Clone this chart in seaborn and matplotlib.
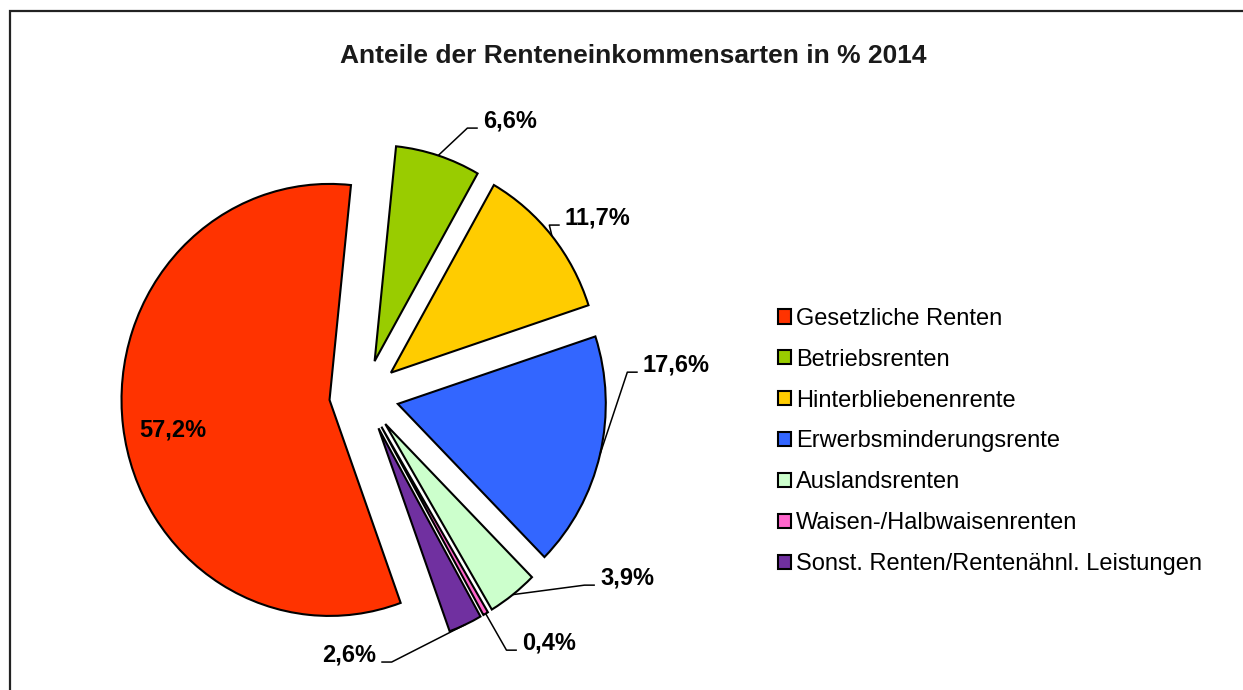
import numpy as np
import matplotlib
matplotlib.use("Agg")
import matplotlib.pyplot as plt
from matplotlib.patches import Rectangle
import seaborn as sns

# Anteile der Renteneinkommensarten 2014 (in %)
categories = ["Gesetzliche Renten", "Betriebsrenten", "Hinterbliebenenrente",
              "Erwerbsminderungsrente", "Auslandsrenten", "Waisen-/Halbwaisenrenten",
              "Sonst. Renten/Rentenähnl. Leistungen"]
shares = [57.2, 6.6, 11.7, 17.6, 3.9, 0.4, 2.6]
colors = ["#FF3300", "#99CC00", "#FFCC00", "#3366FF", "#CCFFCC", "#FF66CC", "#7030A0"]

# label placement (axis units, pie radius = 1) and whether a leader line is drawn
label_pos = [(-0.92, -0.16), (0.572, 1.271), (0.966, 0.822), (1.341, 0.141),
             (1.135, -0.845), (0.760, -1.146), (0.058, -1.201)]
leader = [False, True, True, True, True, True, True]

sns.set_theme(style="white")
plt.rcParams["font.family"] = ["Liberation Sans", "DejaVu Sans"]
plt.rcParams["text.color"] = "black"

fig = plt.figure(figsize=(12.43, 6.9), dpi=100)
W, H = 1243, 690
cx, cy, RX, RY = 364, 395.5, 208, 216  # pie centre / radius in pixels (slightly squeezed)

ax = fig.add_axes([20 / W, 0, 730 / W, 610 / H])
wedges, _ = ax.pie(shares, colors=colors, explode=[0.167] * len(shares),
                   startangle=290, counterclock=False, radius=1,
                   wedgeprops=dict(edgecolor="black", linewidth=1.5))
ax.set_xlim((20 - cx) / RX, (750 - cx) / RX)
ax.set_ylim((cy - 690) / RY, (cy - 80) / RY)
ax.set_aspect("auto")
ax.axis("off")

for w, v, (tx, ty), has_line in zip(wedges, shares, label_pos, leader):
    txt = f"{v:.1f}%".replace(".", ",")
    if not has_line:
        ax.text(tx, ty, txt, ha="center", va="center", fontsize=17, fontweight="bold")
        continue
    mid = np.deg2rad((w.theta1 + w.theta2) / 2)
    x0, y0 = w.center
    px, py = x0 + w.r * np.cos(mid), y0 + w.r * np.sin(mid)
    right = tx > px
    sgn = -1 if right else 1
    ly = ty - 0.033
    ax.plot([px, tx + sgn * 0.075, tx + sgn * 0.025], [py, ly, ly],
            color="black", lw=1.1, solid_capstyle="butt")
    ax.text(tx, ty, txt, ha="left" if right else "right", va="center",
            fontsize=17, fontweight="bold")

fig.text(633 / W, 1 - 56 / H, "Anteile der Renteneinkommensarten in % 2014",
         ha="center", va="center", fontsize=19, fontweight="bold", color="#1a1a1a")

leg = fig.legend(wedges, categories, loc="center left",
                 bbox_to_anchor=(778 / W, 1 - 441.5 / H), frameon=False,
                 fontsize=17, handlelength=0.55, handleheight=0.55,
                 handletextpad=0.2, labelspacing=0.8, borderpad=0, borderaxespad=0)
for t in leg.get_texts():
    t.set_color("black")

# chart-area border (only top and left edge visible in the crop)
fig.patches.append(Rectangle((10 / W, -0.1), 1.2, 1.1 - 11 / H,
                             transform=fig.transFigure, fill=False,
                             edgecolor="#222222", linewidth=1.6))

fig.savefig("out.png", dpi=100)
